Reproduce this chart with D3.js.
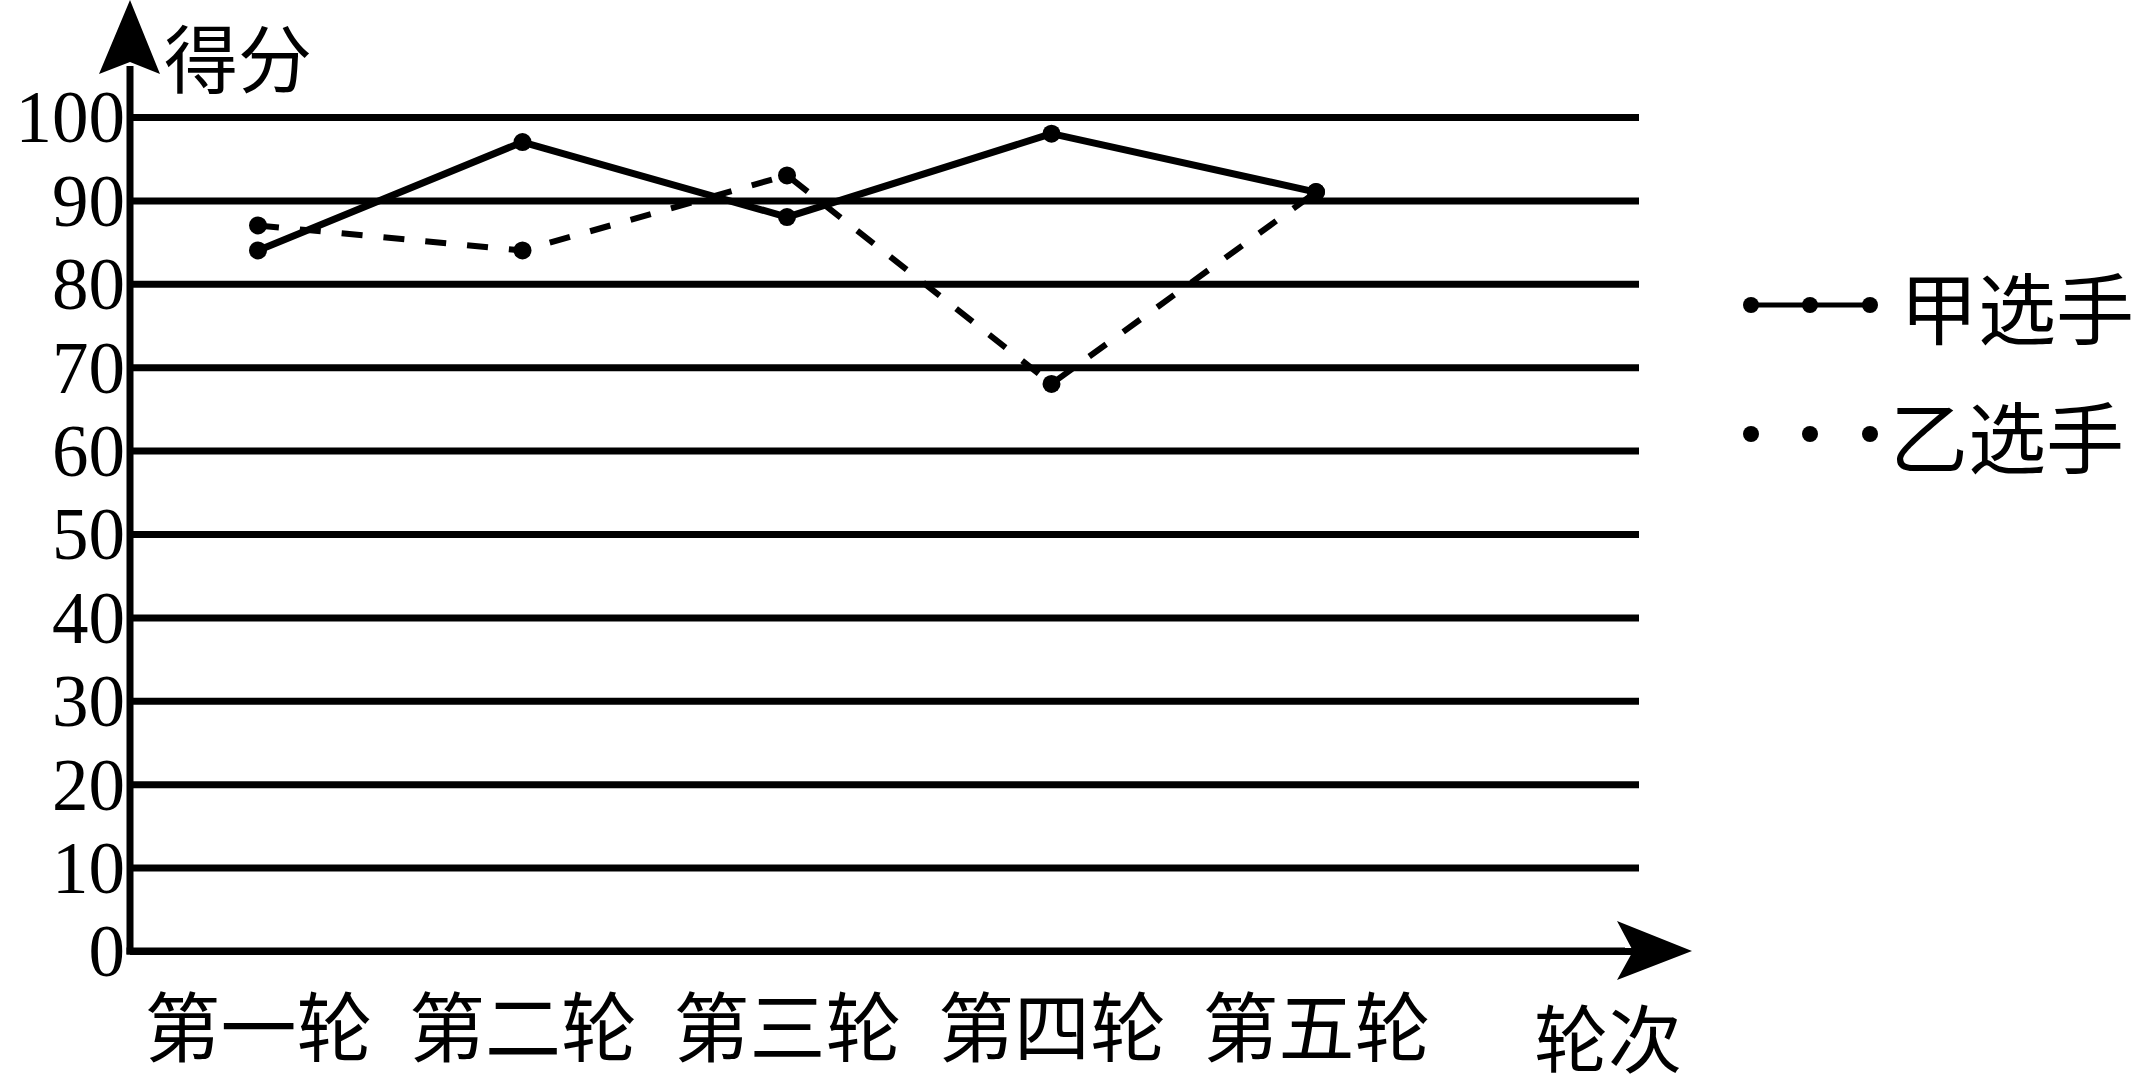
<!DOCTYPE html>
<html>
<head>
<meta charset="utf-8">
<script src="https://cdn.jsdelivr.net/npm/d3@7"></script>
<style>
  html, body { margin: 0; padding: 0; background: #fff; }
  svg { display: block; }
</style>
</head>
<body>
<svg id="chart" width="2138" height="1086"></svg>
<script>
// ---- data ----
const rounds = ["第一轮", "第二轮", "第三轮", "第四轮", "第五轮"];
const jiaScores = [84, 97, 88, 98, 91];
const yiScores = [87, 84, 93, 68, 91];
const yTicks = [0, 10, 20, 30, 40, 50, 60, 70, 80, 90, 100];
const seriesNames = ["甲选手", "乙选手"];
const yTitle = "得分";
const xTitle = "轮次";

// ---- layout ----
const svg = d3.select("#chart");
const axisX = 130, axisY = 951, gridRight = 1639;
const cjk = "'Noto Sans CJK SC', 'Noto Sans', sans-serif";
const serif = "'Liberation Serif', 'DejaVu Serif', serif";

const x = d3.scalePoint().domain(rounds).range([258, 1316]);
const y = d3.scaleLinear().domain([0, 100]).range([axisY, 117]);

// gridlines + y tick labels
const yAxisG = svg.append("g")
  .attr("transform", `translate(${axisX},0)`)
  .call(d3.axisLeft(y).tickValues(yTicks).tickSize(-(gridRight - axisX)).tickPadding(5).tickFormat(d3.format("d")));
yAxisG.select(".domain").remove();
yAxisG.selectAll(".tick line").attr("stroke", "#000").attr("stroke-width", 7);
yAxisG.selectAll(".tick text")
  .attr("fill", "#000")
  .attr("dy", "0.34em")
  .style("font-family", serif)
  .style("font-size", "73px");

// x tick labels
const xAxisG = svg.append("g")
  .attr("transform", `translate(0,${axisY})`)
  .call(d3.axisBottom(x).tickSize(0).tickPadding(0));
xAxisG.select(".domain").remove();
xAxisG.selectAll(".tick text")
  .attr("fill", "#000")
  .attr("y", 72)
  .attr("dy", "0")
  .attr("dominant-baseline", "central")
  .style("font-family", cjk)
  .style("font-size", "76px");

// axes lines with arrows
svg.append("line").attr("x1", axisX).attr("x2", axisX).attr("y1", axisY + 3.5).attr("y2", 66)
  .attr("stroke", "#000").attr("stroke-width", 7);
svg.append("path").attr("d", `M${axisX},0 L${axisX + 30},74 L${axisX},62 L${axisX - 31},74 Z`).attr("fill", "#000");
svg.append("line").attr("x1", axisX - 3.5).attr("x2", 1625).attr("y1", axisY).attr("y2", axisY)
  .attr("stroke", "#000").attr("stroke-width", 7);
svg.append("path").attr("d", `M1692,${axisY} L1617,${axisY - 30} L1633,${axisY} L1617,${axisY + 29} Z`).attr("fill", "#000");

// axis titles
svg.append("text").attr("x", 164).attr("y", 54).attr("dominant-baseline", "central")
  .style("font-family", cjk).style("font-size", "74px").text(yTitle);
svg.append("text").attr("x", 1534).attr("y", 1034).attr("dominant-baseline", "central")
  .style("font-family", cjk).style("font-size", "74px").text(xTitle);

// series
const line = d3.line().x((d, i) => x(rounds[i])).y(d => y(d));
svg.append("path").datum(yiScores).attr("d", line).attr("fill", "none")
  .attr("stroke", "#000").attr("stroke-width", 6).attr("stroke-dasharray", "21,21");
svg.append("path").datum(jiaScores).attr("d", line).attr("fill", "none")
  .attr("stroke", "#000").attr("stroke-width", 7).attr("stroke-linejoin", "round");
svg.append("g").selectAll("circle").data(jiaScores).join("circle")
  .attr("cx", (d, i) => x(rounds[i])).attr("cy", d => y(d)).attr("r", 9).attr("fill", "#000");
svg.append("g").selectAll("circle").data(yiScores).join("circle")
  .attr("cx", (d, i) => x(rounds[i])).attr("cy", d => y(d)).attr("r", 9).attr("fill", "#000");

// legend
const legendRows = [
  { name: seriesNames[0], cy: 305, tx: 1900, solid: true },
  { name: seriesNames[1], cy: 434, tx: 1890, solid: false }
];
const dotXs = [1751, 1810, 1870];
legendRows.forEach(r => {
  const g = svg.append("g");
  if (r.solid) {
    g.append("line").attr("x1", dotXs[0]).attr("x2", dotXs[2]).attr("y1", r.cy).attr("y2", r.cy)
      .attr("stroke", "#000").attr("stroke-width", 5);
  }
  g.selectAll("circle").data(dotXs).join("circle")
    .attr("cx", d => d).attr("cy", r.cy).attr("r", 8).attr("fill", "#000");
  g.append("text").attr("x", r.tx).attr("y", r.cy).attr("dominant-baseline", "central")
    .style("font-family", cjk).style("font-size", "78px").text(r.name);
});
</script>
</body>
</html>
